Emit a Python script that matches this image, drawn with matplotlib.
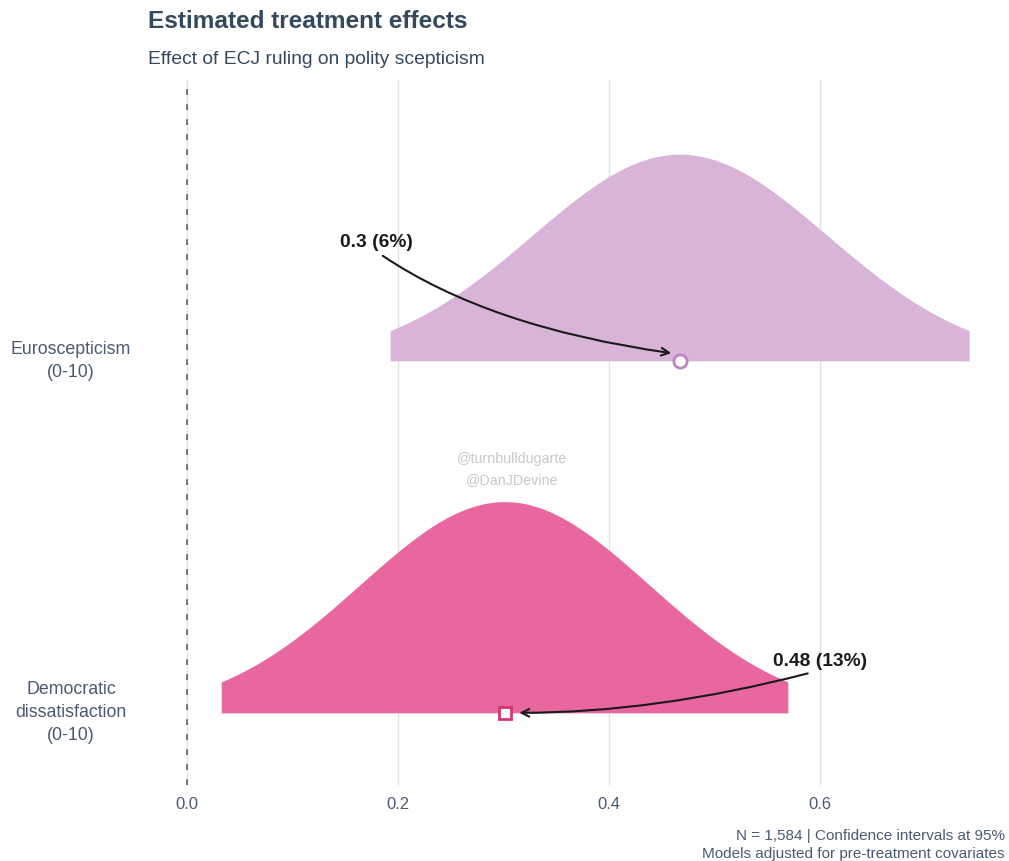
import numpy as np
import matplotlib.pyplot as plt
from matplotlib.transforms import blended_transform_factory

plt.rcParams['font.family'] = ['Liberation Sans', 'DejaVu Sans']

# model estimates (effect on 0-10 scales) and their standard errors
outcomes = ['Democratic\ndissatisfaction\n(0-10)', 'Euroscepticism\n(0-10)']
estimates = [0.301, 0.467]
std_errors = [0.137, 0.140]
labels = ['0.48 (13%)', '0.3 (6%)']
fills = ['#E8679F', '#D8B4D8']
edges = ['#D6336F', '#BE84C4']
markers = ['s', 'o']

text_col = '#34495E'
axis_col = '#4A5A70'

fig = plt.figure(figsize=(10.09, 8.61), dpi=100)
ax = fig.add_axes([0.1487, 0.0883, 0.8365, 0.8188])

ypos = np.arange(len(outcomes)) + 1
peak = 0.6 * min(std_errors)  # tallest curve takes 0.6 of a row

for y, m, se, fc, ec, mk in zip(ypos, estimates, std_errors, fills, edges, markers):
    # 95% interval shaded as a half-eye density
    xs = np.linspace(m - 1.96 * se, m + 1.96 * se, 300)
    dens = np.exp(-0.5 * ((xs - m) / se) ** 2) / se
    ax.fill_between(xs, y, y + dens * peak, color=fc, lw=0, zorder=2)
    ax.plot(m, y, marker=mk, ms=9.5 if mk == 'o' else 8, mfc='white', mec=ec,
            mew=2, zorder=4, clip_on=False)

# curved call-outs
ax.annotate(labels[1], xy=(estimates[1] - 0.008, ypos[1] + 0.022),
            xytext=(0.145, 2.335), fontsize=13.8, fontweight='bold',
            color='#1a1a1a', ha='left', va='center',
            arrowprops=dict(arrowstyle='->', color='#1a1a1a', lw=1.5,
                            shrinkA=2, shrinkB=0, relpos=(0.5, 0),
                            connectionstyle='angle3,angleA=-35,angleB=-8'))
ax.annotate(labels[0], xy=(estimates[0] + 0.014, ypos[0]),
            xytext=(0.555, 1.145), fontsize=13.8, fontweight='bold',
            color='#1a1a1a', ha='left', va='center',
            arrowprops=dict(arrowstyle='->', color='#1a1a1a', lw=1.5,
                            shrinkA=1, shrinkB=0, relpos=(0.5, 0),
                            connectionstyle='angle3,angleA=15,angleB=0'))

ax.axvline(0, color='#606060', lw=1.2, ls=(0, (3.5, 5.5)), zorder=3)

ax.text(0.308, 1.692, '@turnbulldugarte\n@DanJDevine', color='#C8C8C8',
        fontsize=10.3, ha='center', va='center', linespacing=1.6)

ax.set_xlim(-0.035, 0.765)
ax.set_ylim(0.795, 2.798)
ax.set_xticks([0.0, 0.2, 0.4, 0.6])
ax.set_xticklabels(['0.0', '0.2', '0.4', '0.6'])
ax.set_yticks(ypos)
ax.set_yticklabels([])
ax.tick_params(axis='y', length=0)
ax.tick_params(axis='x', length=0, pad=9, labelsize=12, labelcolor=axis_col)
ax.grid(axis='x', color='#E3E3E3', lw=1)
ax.set_axisbelow(True)
for s in ax.spines.values():
    s.set_visible(False)

# outcome names, centred in the left margin
trans = blended_transform_factory(fig.transFigure, ax.transData)
for y, name in zip(ypos, outcomes):
    ax.text(71 / 1009, y, name, transform=trans, ha='center', va='center',
            multialignment='center', fontsize=12.8, color=axis_col,
            linespacing=1.45)

fig.text(148 / 1009, 1 - 22 / 861, 'Estimated treatment effects',
         fontsize=17.6, fontweight='bold', color=text_col, va='center')
fig.text(148 / 1009, 1 - 60 / 861, 'Effect of ECJ ruling on polity scepticism',
         fontsize=13.9, color=text_col, va='center')
fig.text(1005 / 1009, 1 - 845 / 861,
         'N = 1,584 | Confidence intervals at 95%\nModels adjusted for pre-treatment covariates',
         fontsize=11, color=axis_col, ha='right', va='center',
         multialignment='right', linespacing=1.35)

fig.savefig('out.png', dpi=100)
